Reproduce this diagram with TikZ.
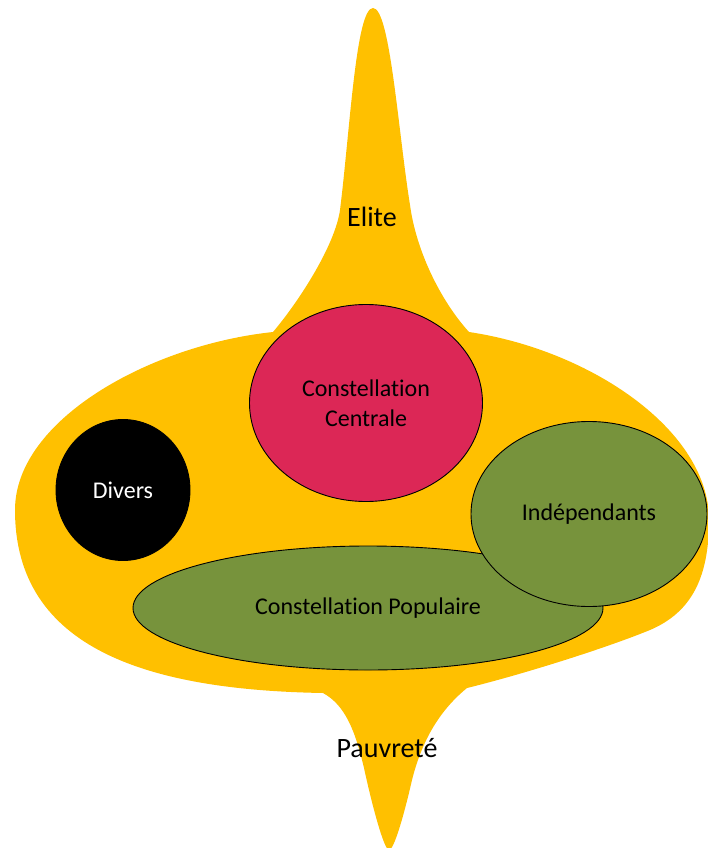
\documentclass[tikz,border=0pt]{standalone}
\usepackage{fontspec}
\setmainfont{Carlito}[Ligatures=NoCommon]
\usetikzlibrary{shapes.geometric}
\definecolor{goldY}{HTML}{FFC000}
\definecolor{oliveG}{HTML}{77933C}
\definecolor{roseR}{HTML}{DC2756}
\tikzset{
  blob/.style={ellipse, draw=black, line width=0.9pt, inner sep=0pt, align=center,
    font=\fontsize{24}{30}\selectfont},
  tag/.style={font=\fontsize{28}{34}\selectfont, inner sep=0pt}
}
\begin{document}
\begin{tikzpicture}[x=1pt,y=-1pt]
\useasboundingbox (0,0) rectangle (707,848);
% yellow body
\fill[goldY] (273,332)
  .. controls (300,300) and (335,245) .. (340,210)
  .. controls (350,130) and (356,8) .. (373,8)
  .. controls (390,8) and (398,130) .. (410,205)
  .. controls (416,250) and (440,300) .. (469,332)
  .. controls (590,350) and (709,430) .. (709,520)
  .. controls (709,580) and (690,615) .. (645,632)
  .. controls (600,650) and (520,675) .. (467,688)
  .. controls (440,710) and (422,740) .. (412,780)
  .. controls (404,815) and (394,850) .. (389,850)
  .. controls (384,850) and (372,805) .. (364,768)
  .. controls (355,730) and (345,705) .. (323,693)
  .. controls (150,690) and (15,650) .. (15,510)
  .. controls (15,420) and (150,345) .. (273,332) -- cycle;
\node[tag] (elite) at (372,217) {Elite};
\node[tag] (pauv) at (387,748) {Pauvreté};
\node[blob, fill=roseR, minimum width=233pt, minimum height=197pt] (centrale) at (366,403) {Constellation\\Centrale};
\node[blob, fill=black, text=white, minimum width=134pt, minimum height=141pt] (divers) at (123,490) {Divers};
\node[blob, fill=oliveG, minimum width=470pt, minimum height=124pt] (pop) at (368,608) {Constellation Populaire};
\node[blob, fill=oliveG, minimum width=236pt, minimum height=185pt] (indep) at (589,514) {Indépendants};
\end{tikzpicture}
\end{document}
